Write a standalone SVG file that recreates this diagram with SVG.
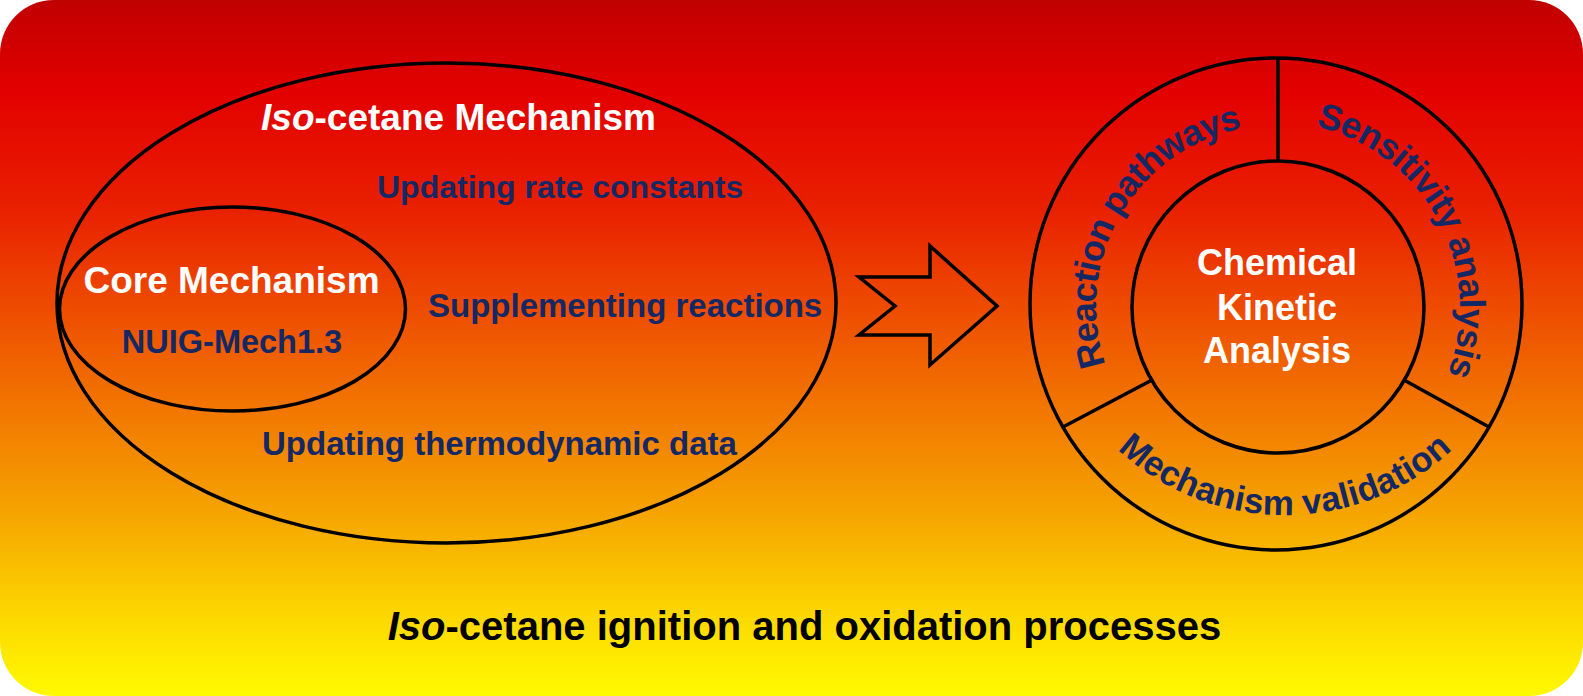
<svg xmlns="http://www.w3.org/2000/svg" width="1583" height="696" viewBox="0 0 1583 696">
  <defs>
    <linearGradient id="bg" x1="0" y1="0" x2="0" y2="1">
      <stop offset="0" stop-color="#C00000"/>
      <stop offset="0.13" stop-color="#E30000"/>
      <stop offset="0.3" stop-color="#E92000"/>
      <stop offset="0.45" stop-color="#EE4E00"/>
      <stop offset="0.6" stop-color="#F27A00"/>
      <stop offset="0.75" stop-color="#F6A800"/>
      <stop offset="0.88" stop-color="#FCD600"/>
      <stop offset="1" stop-color="#FFFA00"/>
    </linearGradient>
    <path id="pReaction" d="M 1186.5 462.8 A 181 181 0 0 1 1367.5 149.2"/>
    <path id="pSensitivity" d="M 1189.7 141.8 A 186 186 0 0 1 1364.3 470.2"/>
    <path id="pValidation" d="M 1038 268 A 247 247 0 0 0 1532 268"/>
    <style>
      .t { font-family: "Liberation Sans", Arial, sans-serif; font-weight: bold; }
      .w { fill: #FFFFFF; }
      .b { fill: #142864; }
      .k { fill: #000000; }
      .ln { fill: none; stroke: #000000; stroke-width: 3.5; }
    </style>
  </defs>

  <rect id="background" x="0" y="0" width="1583" height="696" rx="54" ry="54" fill="url(#bg)"/>

  <g id="iso-mechanism">
    <ellipse class="ln" cx="446.5" cy="303" rx="389.5" ry="240"/>
    <text class="t w" x="458.5" y="130" font-size="37" text-anchor="middle"><tspan font-style="italic">Iso</tspan>-cetane Mechanism</text>
    <text class="t b" x="377" y="198" font-size="32">Updating rate constants</text>
    <text class="t b" x="428" y="317" font-size="33">Supplementing reactions</text>
    <text class="t b" x="262" y="455" font-size="33">Updating thermodynamic data</text>
  </g>

  <g id="core-mechanism">
    <ellipse class="ln" cx="232.5" cy="309" rx="173" ry="102"/>
    <text class="t w" x="231.5" y="293" font-size="37" text-anchor="middle">Core Mechanism</text>
    <text class="t b" x="232" y="353" font-size="32.5" text-anchor="middle">NUIG-Mech1.3</text>
  </g>

  <g id="connectors">
    <path id="arrow" class="ln" stroke-width="4" stroke-linejoin="miter" d="M 859 277 L 930 277 L 930 246 L 997 306 L 930 365 L 930 335 L 859 335 L 895 306 Z"/>
  </g>

  <g id="analysis-ring">
    <circle class="ln" cx="1276" cy="304" r="246"/>
    <line class="ln" x1="1278" y1="58" x2="1278" y2="161"/>
    <line class="ln" x1="1063" y1="427" x2="1152" y2="380"/>
    <line class="ln" x1="1404" y1="380" x2="1489" y2="427"/>
    <text class="t b" font-size="36"><textPath href="#pReaction" startOffset="50%" text-anchor="middle" textLength="309">Reaction pathways</textPath></text>
    <text class="t b" font-size="36"><textPath href="#pSensitivity" startOffset="50%" text-anchor="middle" textLength="318">Sensitivity analysis</textPath></text>
    <text class="t b" font-size="35"><textPath href="#pValidation" startOffset="50%" text-anchor="middle" textLength="368">Mechanism validation</textPath></text>
  </g>

  <g id="chemical-kinetic-analysis">
    <circle class="ln" cx="1278" cy="307" r="146"/>
    <text class="t w" font-size="36" text-anchor="middle"><tspan x="1277" y="275">Chemical</tspan><tspan x="1277" y="320">Kinetic</tspan><tspan x="1277" y="363">Analysis</tspan></text>
  </g>

  <g id="caption">
    <text class="t k" x="804.5" y="640" font-size="40" text-anchor="middle"><tspan font-style="italic">Iso</tspan>-cetane ignition and oxidation processes</text>
  </g>
</svg>
